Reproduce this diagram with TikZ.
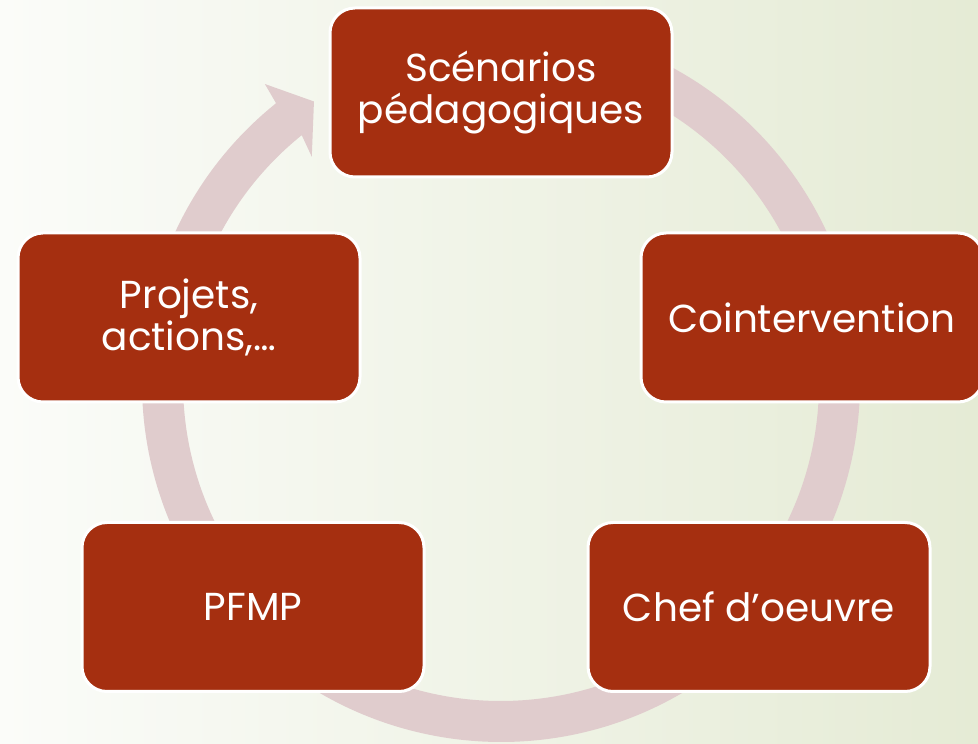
\documentclass[tikz,border=0pt]{standalone}
\usepackage{fontspec}
\setmainfont{Poppins}
\definecolor{boxred}{HTML}{A52F10}
\definecolor{ringc}{HTML}{E0CCCD}
\definecolor{bgl}{HTML}{FBFCF9}
\definecolor{bgr}{HTML}{E5EBD5}
\tikzset{
  stepbox/.style={draw=white, line width=3pt, fill=boxred, rounded corners=25pt,
    minimum width=342pt, minimum height=169pt, text=white, align=center,
    font=\fontsize{39}{42}\selectfont, inner sep=0pt}
}
\begin{document}
\begin{tikzpicture}[x=1pt,y=1pt]
\useasboundingbox (0,0) rectangle (978,744);
\shade[left color=bgl, right color=bgr] (0,0) rectangle (978,744);
% ring with arrowhead
\begin{scope}[shift={(501,361)}]
\fill[ringc] (128.8:359pt) arc[start angle=128.8, end angle=453.8, radius=359pt]
  -- (453.8:318pt) arc[start angle=453.8, end angle=128.8, radius=318pt]
  -- (129.9:295pt) -- (123.6:338pt) -- (128.3:381pt) -- cycle;
\end{scope}
\node[stepbox] (top) at (501,651.5) {Scénarios\\pédagogiques};
\node[stepbox] (right) at (812,426.5) {Cointervention};
\node[stepbox] (left) at (189,426.5) {Projets,\\actions,…};
\node[stepbox] (bl) at (253,137) {PFMP};
\node[stepbox] (br) at (759,137) {Chef d’oeuvre};
\end{tikzpicture}
\end{document}
